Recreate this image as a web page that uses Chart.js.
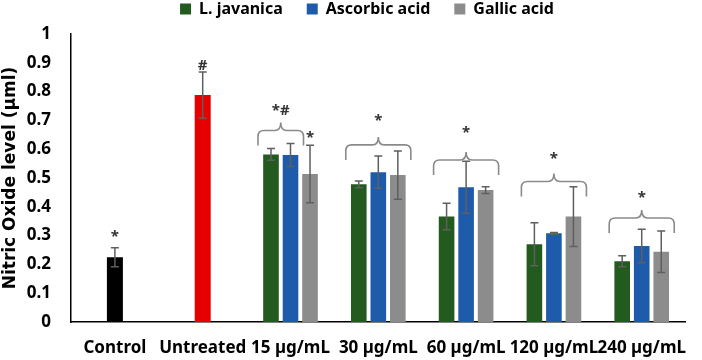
<!DOCTYPE html>
<html lang="en">
<head>
  <meta charset="UTF-8">
  <title>Nitric Oxide level</title>
  <script src="https://cdn.jsdelivr.net/npm/chart.js"></script>
  <style>
    html, body { margin: 0; padding: 0; background: #fff; }
    #wrap { width: 702px; height: 360px; }
  </style>
</head>
<body>
  <div id="wrap"><canvas id="noChart" width="702" height="360"></canvas></div>
  <script>
    // categories and values
    const categories = ['Control', 'Untreated', '15 µg/mL', '30 µg/mL', '60 µg/mL', '120 µg/mL', '240 µg/mL'];
    const seriesNames = ['L. javanica', 'Ascorbic acid', 'Gallic acid'];

    const baseValues = [0.225, 0.788, null, null, null, null, null];
    const baseErr    = [0.033, 0.080, null, null, null, null, null];

    const javanica    = [null, null, 0.582, 0.478, 0.366, 0.270, 0.211];
    const javanicaErr = [null, null, 0.020, 0.012, 0.046, 0.075, 0.019];

    const ascorbic    = [null, null, 0.580, 0.520, 0.468, 0.308, 0.264];
    const ascorbicErr = [null, null, 0.040, 0.056, 0.090, 0.003, 0.058];

    const gallic      = [null, null, 0.514, 0.510, 0.458, 0.366, 0.244];
    const gallicErr   = [null, null, 0.100, 0.084, 0.012, 0.104, 0.072];

    const yTicks = [0, 0.1, 0.2, 0.3, 0.4, 0.5, 0.6, 0.7, 0.8, 0.9, 1];

    // significance marks
    const braceLevel = [null, null, 0.665, 0.615, 0.5625, 0.488, 0.361];
    const braceLast  = [null, null, 1, 2, 2, 2, 2];      // last series index covered by the brace
    const groupMark  = ['*', '#', '*#', '*', '*', '*', '*'];
    const markLevel  = [0.295, 0.889, 0.735, 0.70, 0.657, 0.566, 0.43];
    const gallicMark = [null, null, '*', null, null, null, null];
    const gallicMarkLevel = [null, null, 0.64, null, null, null, null];

    const FONT = "'Noto Sans', 'DejaVu Sans', sans-serif";
    const colors = ['#235b1e', '#1f5bab', '#8c8c8c'];

    function drawErr(ctx, x, yTop, yBot, cap) {
      ctx.beginPath();
      ctx.moveTo(x, yTop); ctx.lineTo(x, yBot);
      ctx.moveTo(x - cap, yTop); ctx.lineTo(x + cap, yTop);
      ctx.moveTo(x - cap, yBot); ctx.lineTo(x + cap, yBot);
      ctx.stroke();
    }

    // legend items sit wide apart but the legend hugs the top edge:
    // keep the wide padding, shrink the box and shift where it draws
    const legendFitPlugin = {
      id: 'legendFit',
      afterInit(chart) {
        const lg = chart.legend;
        const fit = lg.fit;
        const draw = lg.draw;
        lg.fit = function () { fit.call(this); this.height = 34; };
        lg.draw = function () {
          const t = this.top, l = this.left, r = this.right;
          this.top = t - 23; this.left = l + 15; this.right = r + 15;
          draw.call(this);
          this.top = t; this.left = l; this.right = r;
        };
      }
    };

    // error bars, braces and marks drawn on top of the bars
    const marksPlugin = {
      id: 'marks',
      afterDatasetsDraw(chart) {
        const ctx = chart.ctx;
        const y = chart.scales.y;
        const errs = [baseErr, javanicaErr, ascorbicErr, gallicErr];
        ctx.save();
        ctx.strokeStyle = '#5f5f5f';
        ctx.lineWidth = 1.5;
        chart.data.datasets.forEach((ds, di) => {
          const meta = chart.getDatasetMeta(di);
          ds.data.forEach((v, i) => {
            if (v == null || errs[di][i] == null) return;
            const bar = meta.data[i];
            drawErr(ctx, bar.x, y.getPixelForValue(v + errs[di][i]), y.getPixelForValue(v - errs[di][i]), 4);
          });
        });

        // braces
        ctx.strokeStyle = '#8a8a8a';
        ctx.lineWidth = 1.6;
        categories.forEach((c, i) => {
          if (braceLevel[i] == null) return;
          const x0 = chart.getDatasetMeta(1).data[i].x - 13;
          const x1 = chart.getDatasetMeta(1 + braceLast[i]).data[i].x + 13;
          const xm = (x0 + x1) / 2;
          const yh = y.getPixelForValue(braceLevel[i]);
          const r = 6;
          ctx.beginPath();
          ctx.moveTo(x0, yh + 15);
          ctx.lineTo(x0, yh + r);
          ctx.quadraticCurveTo(x0, yh, x0 + r, yh);
          ctx.lineTo(xm - r, yh);
          ctx.quadraticCurveTo(xm, yh, xm, yh - r - 2);
          ctx.quadraticCurveTo(xm, yh, xm + r, yh);
          ctx.lineTo(x1 - r, yh);
          ctx.quadraticCurveTo(x1, yh, x1, yh + r);
          ctx.lineTo(x1, yh + 15);
          ctx.stroke();
        });

        // marks
        ctx.fillStyle = '#333';
        ctx.font = 'bold 15px ' + FONT;
        ctx.textAlign = 'center';
        ctx.textBaseline = 'middle';
        categories.forEach((c, i) => {
          let x;
          if (i < 2) x = chart.getDatasetMeta(0).data[i].x;
          else {
            const a = chart.getDatasetMeta(1).data[i].x - 13;
            const b = chart.getDatasetMeta(1 + braceLast[i]).data[i].x + 13;
            x = (a + b) / 2;
          }
          ctx.fillText(groupMark[i], x, y.getPixelForValue(markLevel[i]));
          if (gallicMark[i]) {
            ctx.fillText(gallicMark[i], chart.getDatasetMeta(3).data[i].x, y.getPixelForValue(gallicMarkLevel[i]));
          }
        });
        ctx.restore();
      }
    };

    const barOpts = { maxBarThickness: 16, categoryPercentage: 0.667, barPercentage: 0.8, skipNull: true };

    new Chart(document.getElementById('noChart'), {
      type: 'bar',
      data: {
        labels: categories,
        datasets: [
          Object.assign({ label: 'base', data: baseValues, backgroundColor: ['#000000', '#e60000'] }, barOpts),
          Object.assign({ label: seriesNames[0], data: javanica, backgroundColor: colors[0] }, barOpts),
          Object.assign({ label: seriesNames[1], data: ascorbic, backgroundColor: colors[1] }, barOpts),
          Object.assign({ label: seriesNames[2], data: gallic, backgroundColor: colors[2] }, barOpts)
        ]
      },
      options: {
        responsive: false,
        animation: false,
        layout: { padding: { top: 0, right: 0, left: 2, bottom: 2 } },
        plugins: {
          tooltip: { enabled: false },
          legend: {
            position: 'top',
            labels: {
              filter: item => item.datasetIndex > 0,
              boxWidth: 11, boxHeight: 11, padding: 24,
              color: '#000',
              font: { family: FONT, size: 16, weight: 'bold' }
            }
          }
        },
        scales: {
          x: {
            grid: { display: false, drawTicks: false },
            border: { display: true, color: '#000', width: 1.5 },
            afterFit: s => { s.height = 36; },
            ticks: { color: '#000', padding: 16, maxRotation: 0, autoSkip: false,
                     font: { family: FONT, size: 17, weight: 'bold' } }
          },
          y: {
            min: 0, max: 1,
            grid: { display: false, drawTicks: false },
            border: { display: true, color: '#000', width: 1.5 },
            afterBuildTicks: s => { s.ticks = yTicks.map(v => ({ value: v })); },
            afterFit: s => { s.width = 69; },
            ticks: { color: '#000', padding: 20,
                     callback: v => String(Math.round(v * 10) / 10),
                     font: { family: FONT, size: 17, weight: 'bold' } },
            title: { display: true, text: 'Nitric Oxide level (µml)', color: '#000',
                     padding: { top: -2, bottom: 4 },
                     font: { family: "'DejaVu Sans', sans-serif", size: 17, weight: 'bold' } }
          }
        }
      },
      plugins: [legendFitPlugin, marksPlugin]
    });
  </script>
</body>
</html>
